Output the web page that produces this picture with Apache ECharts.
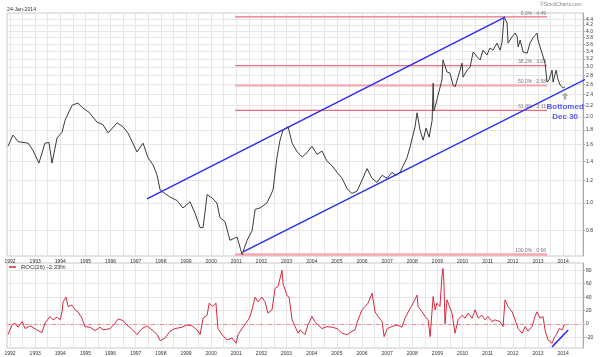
<!DOCTYPE html>
<html><head><meta charset="utf-8">
<script src="https://cdn.jsdelivr.net/npm/echarts@6/dist/echarts.min.js"></script>
<style>html,body{margin:0;padding:0;background:#fff}#c{width:600px;height:357px}</style>
</head><body><div id="c"></div>
<script>
// ---- data (decimal years) ----
const priceYears = [1991.92,1992.12,1992.32,1992.72,1992.91,1993.15,1993.39,1993.55,1993.67,1993.87,1994.07,1994.19,1994.47,1994.70,1994.90,1995.14,1995.46,1995.70,1995.90,1996.26,1996.49,1996.69,1997.05,1997.29,1997.49,1997.69,1997.85,1997.97,1998.09,1998.36,1998.64,1998.88,1999.16,1999.36,1999.56,1999.68,1999.84,2000.04,2000.23,2000.35,2000.55,2000.75,2001.03,2001.23,2001.43,2001.63,2001.75,2001.94,2002.22,2002.46,2002.62,2002.74,2002.86,2003.06,2003.22,2003.42,
2003.62,2003.81,2004.01,2004.21,2004.41,2004.61,2004.81,2005.01,2005.21,2005.41,2005.60,2005.80,2006.00,2006.20,2006.40,2006.60,2006.80,2007.00,2007.19,2007.35,2007.51,
2007.79,2007.91,2008.11,2008.19,2008.31,2008.43,2008.55,2008.67,2008.79,2008.83,2008.86,2008.98,2009.18,2009.22,2009.38,2009.50,2009.62,2009.70,2009.82,2009.98,2010.02,2010.18,2010.30,2010.42,2010.58,2010.70,2010.81,2010.97,2011.09,2011.21,2011.37,2011.49,2011.57,2011.65,2011.77,2011.81,2011.97,2012.09,2012.17,2012.21,2012.29,2012.41,2012.57,2012.68,2012.80,2012.96,2013.00,2013.16,2013.28,2013.36,2013.44,2013.56,2013.60,2013.72,2013.80,2013.88,2014.00,2014.07];
const priceValues = [1.58,1.73,1.64,1.62,1.53,1.38,1.62,1.63,1.38,1.69,1.77,1.95,2.20,2.24,2.15,2.08,1.92,1.88,1.76,1.91,1.85,1.76,1.51,1.62,1.44,1.36,1.25,1.11,1.09,1.05,1.02,0.96,1.01,0.92,0.82,0.82,1.07,1.04,1.00,0.89,0.86,0.74,0.76,0.66,0.74,0.80,0.95,0.96,1.00,1.11,1.45,1.66,1.80,1.85,1.62,1.51,
1.45,1.50,1.58,1.48,1.52,1.40,1.35,1.28,1.22,1.12,1.08,1.10,1.20,1.32,1.22,1.18,1.25,1.22,1.28,1.25,1.28,
1.44,1.57,1.85,2.07,1.80,1.66,1.83,1.70,1.95,2.63,2.10,2.30,2.70,3.17,2.88,2.85,2.59,2.55,2.76,3.09,2.76,2.92,2.99,3.38,3.25,3.17,3.43,3.30,3.49,3.43,3.63,3.43,3.66,4.49,4.27,3.63,3.82,3.94,3.82,3.52,3.72,3.38,3.35,3.63,3.79,3.94,3.72,3.35,3.09,2.65,2.70,2.92,2.65,2.92,2.70,2.59,2.53,2.55];

const rocYears = [1991.92,1992.08,1992.20,1992.32,1992.48,1992.60,1992.80,1993.07,1993.27,1993.39,1993.59,1993.71,1993.87,1993.99,1994.07,1994.11,1994.23,1994.31,1994.47,1994.59,1994.70,1994.86,1994.98,1995.18,1995.38,1995.58,1995.70,1995.98,1996.18,1996.30,1996.49,1996.65,1996.85,1997.05,1997.25,1997.45,1997.65,1997.85,1997.97,1998.17,1998.36,1998.56,1998.84,1999.04,1999.24,1999.44,1999.56,1999.68,1999.84,1999.92,2000.07,2000.19,2000.27,2000.43,2000.63,2000.83,2000.99,2001.07,2001.23,2001.43,2001.55,2001.67,2001.75,2001.86,2002.02,2002.14,2002.26,2002.42,2002.54,2002.66,2002.82,2002.86,2003.02,2003.10,2003.22,2003.34,2003.46,
2003.54,2003.73,2003.85,2004.01,2004.13,2004.25,2004.41,2004.61,2004.81,2005.01,2005.21,2005.41,2005.60,2005.72,2005.84,2006.00,2006.12,2006.24,2006.40,2006.52,2006.64,2006.80,2006.88,2007.00,2007.19,2007.39,2007.59,2007.71,2007.91,2008.03,2008.19,2008.23,2008.39,2008.51,2008.63,2008.71,2008.83,2008.91,2008.98,2009.10,2009.18,2009.22,2009.26,2009.30,2009.38,2009.42,2009.58,2009.70,2009.82,2009.98,2010.10,2010.22,2010.38,2010.50,2010.62,2010.77,2010.89,2011.01,2011.17,2011.29,2011.49,2011.61,2011.69,2011.81,2011.97,2012.09,2012.21,2012.37,2012.49,2012.60,2012.76,2012.88,2012.96,2013.08,2013.20,2013.28,2013.40,2013.56,2013.64,2013.76,2013.84,2013.96,2014.04,2014.07];
const rocValues = [-16,-1.5,1,-5,3.5,-7,-3,-9,-13,1,11,6,10,6,18,33,40,26,28,21,18,8.5,-4,-5,-10,-5,-9,-7,1,7.5,5,-1.5,-8,-16,-7,-3,-9,-16,-25,-21,-11,-7,-5,-1.5,-3,-9,-16,8.5,13,31,26,31,-7,-16,-24,-21,-29,-16,-7,3.5,11,28,40,33,40,33,16,21,53,56,80,60,42,40,6,-4,-14,
-9,-16,-1.5,11,3.5,-1.5,-7,-4,-5,-7,-14,-16,-11,-9,6,21,26,31,46,18,11,3.5,-19,-7,-4,-1.5,-5,8.5,23,31,43,26,18,11,6,-19,41,21,31,26,71,83,61,0,36,38,16,-14,6,13,8.5,16,8.5,21,8.5,13,6,11,3.5,6,3.5,-4,36,26,18,6,-7,-14,-4,-11,-4,11,18,8.5,11,-9,-24,-29,-21,-14,-7,-9,-1.5,-2.33];

const yearTicks = [1992,1993,1994,1995,1996,1997,1998,1999,2000,2001,2002,2003,2004,2005,2006,2007,2008,2009,2010,2011,2012,2013,2014];
const priceTicks = [0.8,1.0,1.2,1.4,1.6,1.8,2.0,2.2,2.4,2.6,2.8,3.0,3.2,3.4,3.6,3.8,4.0,4.2,4.4];
const rocTicks = [-20,0,20,40,60,80];
const fibLevels = [4.49,3.03,2.58,2.11,0.66];
const fibLabels = ['0.0% : 4.49','38.2% : 3.03','50.0% : 2.58','61.8% : 2.11','100.0% : 0.66'];
const fibStart = 2000.95, fibEnd = 2013.36;
const upperChannel = [[1997.45,1.033],[2011.69,4.48]];
const lowerChannel = [[2001.27,0.674],[2015.47,2.88]];
const rocTrend = [[2013.56,-34.3],[2014.2,-9]];
const bottomPoint = [2014.08,2.37];
const rocName = 'ROC(26) -2.33%';

// ---- chart ----
const L = Math.log;
const xMin = 1991.88, xMax = 2014.79;
const halfYears = yearTicks.reduce((a,y)=>{a.push(y); a.push(y+0.5); return a;}, []);
const font = 'Liberation Sans, Arial, sans-serif';
const priceData = priceYears.map((y,i)=>[y, L(priceValues[i])]);
const rocData = rocYears.map((y,i)=>[y, rocValues[i]]);
const fibStyles = [
  {color:'#e8707c',width:1.2},{color:'#e8707c',width:1.2},{color:'#f5a8b0',width:2},
  {color:'#e8707c',width:1.2},{color:'#f5a8b0',width:2.5}];

const xAxisFor = i => ({
  type:'value', gridIndex:i, min:xMin, max:xMax,
  axisLine:{show:false},
  axisTick:{show:false, customValues:halfYears},
  axisLabel:{customValues:yearTicks, formatter:v=>String(Math.round(v)), fontSize:5, color:'#333', margin:3, fontFamily:font},
  splitLine:{show:true, lineStyle:{color:'#e6e6e6', width:1}}
});

const fibSeries = fibLevels.map((v,i)=>({
  type:'line', name:'fib'+i, xAxisIndex:0, yAxisIndex:0,
  data:[[fibStart, L(v)],[fibEnd, L(v)]], showSymbol:false, silent:true, z:2,
  lineStyle:{color:fibStyles[i].color, width:fibStyles[i].width},
  endLabel:{show:true, formatter:fibLabels[i], fontSize:5, color:'#777', align:'right', verticalAlign:'bottom', offset:[-1,-1], distance:0}
}));

const chart = echarts.init(document.getElementById('c'), null, {renderer:'canvas'});
chart.setOption({
  animation:false,
  textStyle:{fontFamily:font},
  grid:[
    {left:7, top:13, width:576, height:243, show:true, borderColor:'#c8c8c8', borderWidth:1},
    {left:7, top:263, width:576, height:85, show:true, borderColor:'#c8c8c8', borderWidth:1}
  ],
  legend:{
    data:[{name:rocName, icon:'rect'}], left:9, top:264, itemWidth:7, itemHeight:1.5, itemGap:4,
    textStyle:{fontSize:6, color:'#333', fontFamily:font}, padding:0, selectedMode:false
  },
  xAxis:[xAxisFor(0), xAxisFor(1)],
  yAxis:[
    {type:'value', gridIndex:0, position:'right', min:L(0.652), max:L(4.63),
     axisLine:{show:true, lineStyle:{color:'#aaa'}},
     axisTick:{show:true, customValues:priceTicks.map(L), length:2, lineStyle:{color:'#aaa'}},
     axisLabel:{customValues:priceTicks.map(L), formatter:v=>Math.exp(v).toFixed(1), fontSize:5, color:'#333', margin:3, fontFamily:font},
     splitLine:{show:true, lineStyle:{color:'#e6e6e6'}}},
    {type:'value', gridIndex:1, position:'right', min:-36, max:91,
     axisLine:{show:true, lineStyle:{color:'#aaa'}},
     axisTick:{show:true, customValues:rocTicks, length:2, lineStyle:{color:'#aaa'}},
     axisLabel:{customValues:rocTicks, fontSize:5, color:'#333', margin:3, fontFamily:font},
     splitLine:{show:true, lineStyle:{color:'#e6e6e6'}}}
  ],
  graphic:[
    {type:'text', left:7, top:7, style:{text:'24-Jan-2014', fontSize:5.2, fill:'#333', fontFamily:font}},
    {type:'text', left:540, top:2, style:{text:'\u00A9StockCharts.com', fontSize:5, fill:'#888', fontFamily:font}}
  ],
  series:[
    ...fibSeries,
    {type:'line', name:'price', xAxisIndex:0, yAxisIndex:0, data:priceData, showSymbol:false,
     lineStyle:{color:'#3a3a3a', width:1}, silent:true, z:3},
    {type:'line', name:'upper', xAxisIndex:0, yAxisIndex:0, data:upperChannel.map(p=>[p[0],L(p[1])]),
     showSymbol:false, lineStyle:{color:'#2c2cf0', width:1.5}, silent:true, z:4},
    {type:'line', name:'lower', xAxisIndex:0, yAxisIndex:0, data:lowerChannel.map(p=>[p[0],L(p[1])]),
     showSymbol:false, clip:false, lineStyle:{color:'#2c2cf0', width:1.5}, silent:true, z:4},
    {type:'scatter', name:'bottom', xAxisIndex:0, yAxisIndex:0, data:[[bottomPoint[0], L(bottomPoint[1])]],
     symbol:'path://M5,0 L10,5 L7,5 L7,10 L3,10 L3,5 L0,5 Z', symbolSize:[6,7], itemStyle:{color:'#999'},
     label:{show:true, position:'bottom', distance:2, formatter:'Bottomed\nDec 30', fontSize:8, fontWeight:'bold',
            color:'#3030ee', lineHeight:10, align:'center'}, silent:true, z:5},
    {type:'line', name:rocName, xAxisIndex:1, yAxisIndex:1, data:rocData, showSymbol:false,
     lineStyle:{color:'#d6283f', width:1}, itemStyle:{color:'#d6283f'}, silent:true, z:3,
     markLine:{silent:true, symbol:['none','none'], z:2, label:{show:false},
       data:[{yAxis:0, lineStyle:{color:'#f08a90', width:1, type:[4,2,1,2]}}]}},
    {type:'line', name:'rocTrend', xAxisIndex:1, yAxisIndex:1, data:rocTrend, showSymbol:false,
     clip:false, lineStyle:{color:'#2c2cf0', width:1.5}, silent:true, z:4}
  ]
});
</script></body></html>
